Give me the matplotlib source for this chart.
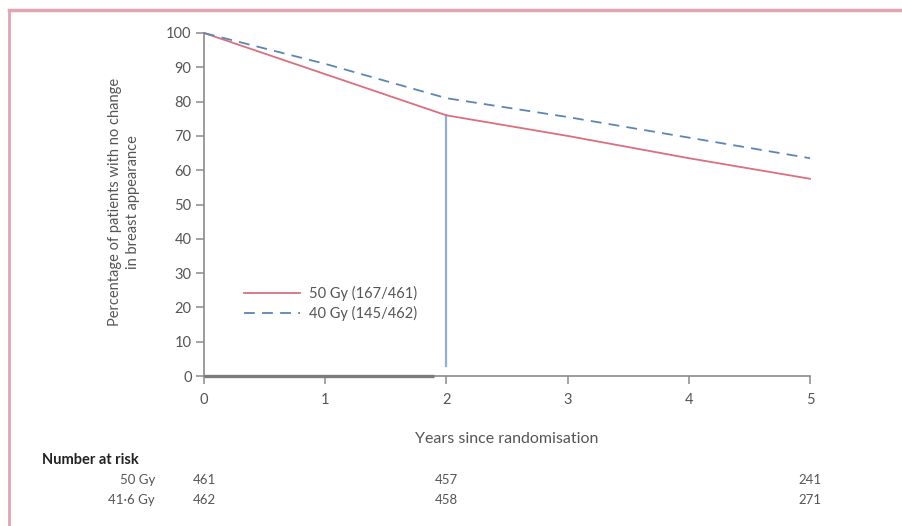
import matplotlib
matplotlib.use("Agg")
import matplotlib.pyplot as plt
from matplotlib.lines import Line2D
import matplotlib.transforms as mtransforms

plt.rcParams['font.family'] = ['Lato', 'DejaVu Sans']

years = [0, 1, 2, 3, 4, 5]
gy50 = [100, 88, 76, 70, 63.5, 57.5]
gy40 = [100, 91, 81, 75.5, 69.5, 63.5]
label50 = "50 Gy (167/461)"
label40 = "40 Gy (145/462)"
xticks = [0, 1, 2, 3, 4, 5]
yticks = list(range(0, 101, 10))
risk_times = [0, 2, 5]
risk_50 = ["461", "457", "241"]
risk_416 = ["462", "458", "271"]
risk_rows = ["50 Gy", "41·6 Gy"]

red = '#d9707f'
blue = '#5b86b5'
vblue = '#8fb0d6'
grey = '#555555'
axgrey = '#8a8a8a'

fig = plt.figure(figsize=(9.02, 5.26), dpi=100)
ax = fig.add_axes([204/902, 1-376/526, (810-204)/902, (376-33)/526])

ax.plot(years, gy50, color=red, lw=1.3, label=label50, clip_on=False, zorder=3)
ax.plot(years, gy40, color=blue, lw=1.3, ls=(0, (6, 4)), label=label40, clip_on=False, zorder=3)
ax.plot([2, 2], [3, gy50[2]], color=vblue, lw=1.6, zorder=2)
ax.plot([0, 1.9], [0, 0], color='#7c7c7c', lw=2.4, clip_on=False, zorder=4, solid_capstyle='butt')

ax.set_xlim(0, 5)
ax.set_ylim(0, 100)
ax.set_xticks(xticks)
ax.set_yticks(yticks)
for s in ['top', 'right']:
    ax.spines[s].set_visible(False)
for s in ['left', 'bottom']:
    ax.spines[s].set_color(axgrey)
    ax.spines[s].set_linewidth(1.2)
ax.tick_params(axis='both', direction='out', length=6, width=1.1, color=axgrey,
               labelsize=10.5, labelcolor=grey, pad=3)
ax.tick_params(axis='x', pad=6)
ax.set_xlabel("Years since randomisation", fontsize=11.5, color=grey, labelpad=18)
ax.set_ylabel("Percentage of patients with no change\nin breast appearance", fontsize=10.5,
              color=grey, linespacing=1.35, va='center', multialignment='center')
ax.yaxis.set_label_coords((124 - 204) / 606, (376 - 202) / 343)

leg = ax.legend(loc='upper left', bbox_to_anchor=(0.045, 0.30), frameon=False,
                fontsize=10.5, handlelength=3.8, labelcolor=grey, handletextpad=0.6,
                labelspacing=0.35)

# Number at risk
fig.text(42/902, 1-460/526, "Number at risk", fontsize=10.5, fontweight='bold',
         color='#222222', va='center', ha='left')
trans = mtransforms.blended_transform_factory(ax.transData, fig.transFigure)
row_y = [1-480/526, 1-500/526]
for name, vals, y in zip(risk_rows, [risk_50, risk_416], row_y):
    fig.text(155/902, y, name, fontsize=9.5, color=grey, ha='right', va='center')
    for t, v in zip(risk_times, vals):
        fig.text(t, y, v, transform=trans, fontsize=9.5, color=grey, ha='center', va='center')

# pink frame (top and left edges)
pink = '#e2a4b3'
fig.add_artist(Line2D([9/902, 1], [1-10/526, 1-10/526], transform=fig.transFigure,
                      color=pink, lw=2.5))
fig.add_artist(Line2D([9/902, 9/902], [0, 1-10/526], transform=fig.transFigure,
                      color=pink, lw=2.0))

fig.savefig("out.png", dpi=100)
